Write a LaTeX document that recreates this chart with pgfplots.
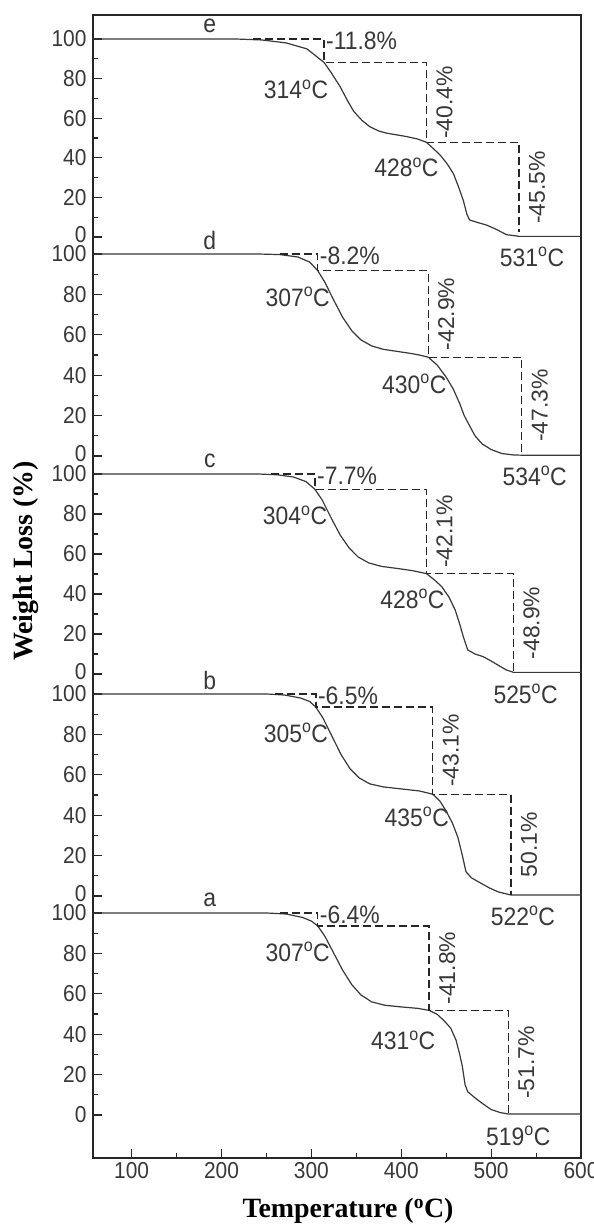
\documentclass[border=0pt]{standalone}
\usepackage{graphicx}
\usepackage{pgfplots}
\usepackage{pgfplotstable}
\pgfplotsset{compat=1.18}
\usepackage{fontspec}
\setmainfont{Liberation Sans}
\newfontfamily\titlefont{Liberation Serif}
\newcommand\lab{\fontsize{21}{24}\selectfont}
\newcommand\ann{\fontsize{23}{26}\selectfont}
\newcommand\st[1]{\scalebox{1}[1.1]{#1}}
\newcommand\z{\raisebox{6bp}{\st{0}}}
\newcommand\ttl{\titlefont\bfseries\fontsize{28}{32}\selectfont}
\colorlet{ink}{black!78}
\colorlet{dink}{black!85}
% panel scales (bp per %) and offsets (bp)
\def\Sa{2.02}\def\Oa{43}
\def\Sb{2.02}\def\Ob{262}
\def\Sc{2.00}\def\Oc{484}
\def\Sd{2.02}\def\Od{702}
\def\Se{1.98}\def\Oe{921}
\pgfplotstableread{
T w
57 100
250 100
272 99.5
290 97.8
300 96
307 93.6
315 88.5
325 80
335 71.5
345 64.5
355 59.5
367 56
382 54.3
400 53.5
418 52.8
431 51.8
440 49.8
448 46.5
455 43
461 37
465 30
468 24
471 15
474 11.5
482 8.5
490 5.8
500 2.7
510 1.2
519 0.5
600 0.5
}\curveA
\pgfplotstableread{
T w
57 100
250 100
270 99.5
288 98
298 96.3
305 93.5
313 88
323 79
333 70
343 63
353 58.5
365 55.5
380 54
400 53
420 52
435 50.4
443 47
450 42
457 36
463 29
468 20
472 12
478 9
488 6.5
498 4
508 2
522 0.5
600 0.5
}\curveB
\pgfplotstableread{
T w
57 100
240 100
262 99.6
280 98.5
294 96.2
304 92.3
312 87
322 78
332 69.5
342 63
352 58.5
364 55.5
378 53.8
395 52.8
412 51.7
428 50.2
437 47
445 43.7
453 38.5
460 32
465 25
469 18.7
474 12
482 10
491 8.7
500 6.5
510 3.8
517 2
525 0.8
600 0.8
}\curveC
\pgfplotstableread{
T w
57 100
240 100
265 99.7
285 98.5
298 96
307 91.8
315 86
325 77
335 68.5
345 62
355 57.5
367 54.5
380 52.8
395 51.8
410 50.8
420 50
430 48.9
440 45
450 39
458 33
465 26
470 20
476 15
482 10
490 6
500 3.2
512 1.2
525 0.5
534 0.4
600 0.4
}\curveD
\pgfplotstableread{
T w
57 100
215 100
245 99.5
272 98
295 95
314 88.2
322 83
332 75.9
340 69
347 63.5
356 59
365 55.7
375 53.5
384 52.4
396 51.5
406 50.7
418 49.5
428 47.8
436 44.5
443 41.5
451 37
458 32
464 25
469 18.5
473 11.5
476 8.6
485 7.3
495 6
505 4
517 1.2
531 0.3
600 0.3
}\curveE
% dashed guide lines
\pgfplotstableread{
T w
265 100
307 100
307 93.6
431 93.6
431 51.8
519 51.8
519 0.1
}\guideA
\pgfplotstableread{
T w
260 100
305 100
305 93.5
435 93.5
435 50.4
522 50.4
522 0.3
}\guideB
\pgfplotstableread{
T w
255 100
304 100
304 92.3
428 92.3
428 50.2
525 50.2
525 1.3
}\guideC
\pgfplotstableread{
T w
265 100
307 100
307 91.8
430 91.8
430 48.9
534 48.9
534 1.6
}\guideD
\pgfplotstableread{
T w
235 100
314 100
314 88.2
428 88.2
428 47.8
531 47.8
531 2.3
}\guideE
\begin{document}
\begin{tikzpicture}[x=1bp,y=1bp]
\useasboundingbox (0,0) rectangle (594,1225);
\begin{axis}[at={(93bp,67bp)}, anchor=south west, scale only axis,
  width=488bp, height=1143bp,
  xmin=57, xmax=600, ymin=0, ymax=1143,
  axis line style={line width=1.4bp, black!85},
  xtick={100,200,300,400,500,600},
  minor xtick={150,250,350,450,550},
  xtick pos=bottom, ytick pos=left, tick align=inside,
  major tick length=9bp, minor tick length=5bp,
  tick style={line width=1.1bp, black!85},
  ytick={43,83.4,123.8,164.2,204.6,245,
         262,302.4,342.8,383.2,423.6,464,
         484,524,564,604,644,684,
         702,742.4,782.8,823.2,863.6,904,
         921,960.6,1000.2,1039.8,1079.4,1119},
  yticklabels={\st{0},\st{20},\st{40},\st{60},\st{80},\st{100},
               \z,\st{20},\st{40},\st{60},\st{80},\st{100},
               \z,\st{20},\st{40},\st{60},\st{80},\st{100},
               \z,\st{20},\st{40},\st{60},\st{80},\st{100},
               \z,\st{20},\st{40},\st{60},\st{80},\st{100}},
  minor ytick={63.2,103.6,144,184.4,224.8,
         282.2,322.6,363,403.4,443.8,
         504,544,584,624,664,
         722.2,762.6,803,843.4,883.8,
         940.8,980.4,1020,1059.6,1099.2},
  xticklabels={\st{100},\st{200},\st{300},\st{400},\st{500},\st{600}},
  ticklabel style={font=\lab, text=ink},
  yticklabel style={xshift=-3bp},
  xticklabel style={yshift=-1bp},
  clip=false,
  every axis plot/.append style={line width=1.2bp},
]
\addplot[ink, no marks] table[x=T, y expr=\thisrow{w}*\Sa+\Oa] {\curveA};
\addplot[ink, no marks] table[x=T, y expr=\thisrow{w}*\Sb+\Ob] {\curveB};
\addplot[ink, no marks] table[x=T, y expr=\thisrow{w}*\Sc+\Oc] {\curveC};
\addplot[ink, no marks] table[x=T, y expr=\thisrow{w}*\Sd+\Od] {\curveD};
\addplot[ink, no marks] table[x=T, y expr=\thisrow{w}*\Se+\Oe] {\curveE};
\addplot[dink, no marks, line width=1.3bp, dash pattern=on 8bp off 4bp] table[x=T, y expr=\thisrow{w}*\Sa+\Oa] {\guideA};
\addplot[dink, no marks, line width=1.3bp, dash pattern=on 8bp off 4bp] table[x=T, y expr=\thisrow{w}*\Sb+\Ob] {\guideB};
\addplot[dink, no marks, line width=1.3bp, dash pattern=on 8bp off 4bp] table[x=T, y expr=\thisrow{w}*\Sc+\Oc] {\guideC};
\addplot[dink, no marks, line width=1.3bp, dash pattern=on 8bp off 4bp] table[x=T, y expr=\thisrow{w}*\Sd+\Od] {\guideD};
\addplot[dink, no marks, line width=1.3bp, dash pattern=on 8bp off 4bp] table[x=T, y expr=\thisrow{w}*\Se+\Oe] {\guideE};
% panel letters
\node[font=\ann, text=ink] at ([yshift=13bp]axis cs:187,{100*\Se+\Oe}) {\st{e}};
\node[font=\ann, text=ink] at ([yshift=13bp]axis cs:187,{100*\Sd+\Od}) {\st{d}};
\node[font=\ann, text=ink] at ([yshift=13bp]axis cs:187,{100*\Sc+\Oc}) {\st{c}};
\node[font=\ann, text=ink] at ([yshift=13bp]axis cs:187,{100*\Sb+\Ob}) {\st{b}};
\node[font=\ann, text=ink] at ([yshift=13bp]axis cs:187,{100*\Sa+\Oa}) {\st{a}};
% first-step labels
\node[font=\ann, text=ink, anchor=west, inner sep=1bp] at ([xshift=1bp,yshift=-2bp]axis cs:314,{100*\Se+\Oe}) {\st{-11.8\%}};
\node[font=\ann, text=ink, anchor=west, inner sep=1bp] at ([xshift=1bp,yshift=-2bp]axis cs:307,{100*\Sd+\Od}) {\st{-8.2\%}};
\node[font=\ann, text=ink, anchor=west, inner sep=1bp] at ([xshift=1bp,yshift=-2bp]axis cs:304,{100*\Sc+\Oc}) {\st{-7.7\%}};
\node[font=\ann, text=ink, anchor=west, inner sep=1bp] at ([xshift=1bp,yshift=-2bp]axis cs:305,{100*\Sb+\Ob}) {\st{-6.5\%}};
\node[font=\ann, text=ink, anchor=west, inner sep=1bp] at ([xshift=1bp,yshift=-2bp]axis cs:307,{100*\Sa+\Oa}) {\st{-6.4\%}};
% T1 labels
\node[font=\ann, text=ink] at ([xshift=-28bp,yshift=-27bp]axis cs:314,{88.2*\Se+\Oe}) {\st{314\textsuperscript{o}C}};
\node[font=\ann, text=ink] at ([xshift=-20bp,yshift=-26bp]axis cs:307,{91.8*\Sd+\Od}) {\st{307\textsuperscript{o}C}};
\node[font=\ann, text=ink] at ([xshift=-20bp,yshift=-26bp]axis cs:304,{92.3*\Sc+\Oc}) {\st{304\textsuperscript{o}C}};
\node[font=\ann, text=ink] at ([xshift=-20bp,yshift=-26bp]axis cs:305,{93.5*\Sb+\Ob}) {\st{305\textsuperscript{o}C}};
\node[font=\ann, text=ink] at ([xshift=-20bp,yshift=-26bp]axis cs:307,{93.6*\Sa+\Oa}) {\st{307\textsuperscript{o}C}};
% T2 labels
\node[font=\ann, text=ink] at ([xshift=-20bp,yshift=-25bp]axis cs:428,{47.8*\Se+\Oe}) {\st{428\textsuperscript{o}C}};
\node[font=\ann, text=ink] at ([xshift=-14bp,yshift=-27bp]axis cs:430,{48.9*\Sd+\Od}) {\st{430\textsuperscript{o}C}};
\node[font=\ann, text=ink] at ([xshift=-14bp,yshift=-25bp]axis cs:428,{50.2*\Sc+\Oc}) {\st{428\textsuperscript{o}C}};
\node[font=\ann, text=ink] at ([xshift=-16bp,yshift=-23bp]axis cs:435,{50.4*\Sb+\Ob}) {\st{435\textsuperscript{o}C}};
\node[font=\ann, text=ink] at ([xshift=-26bp,yshift=-30bp]axis cs:431,{51.8*\Sa+\Oa}) {\st{431\textsuperscript{o}C}};
% T3 labels
\node[font=\ann, text=ink] at ([xshift=13bp,yshift=-20bp]axis cs:531,{0*\Se+\Oe}) {\st{531\textsuperscript{o}C}};
\node[font=\ann, text=ink] at ([xshift=13bp,yshift=-20bp]axis cs:534,{0*\Sd+\Od}) {\st{534\textsuperscript{o}C}};
\node[font=\ann, text=ink] at ([xshift=12bp,yshift=-20bp]axis cs:525,{0*\Sc+\Oc}) {\st{525\textsuperscript{o}C}};
\node[font=\ann, text=ink] at ([xshift=12bp,yshift=-20bp]axis cs:522,{0*\Sb+\Ob}) {\st{522\textsuperscript{o}C}};
\node[font=\ann, text=ink] at ([xshift=10bp,yshift=-21bp]axis cs:519,{0*\Sa+\Oa}) {\st{519\textsuperscript{o}C}};
% rotated step-2 labels
\node[font=\ann, text=ink, rotate=90] at ([xshift=18bp]axis cs:428,{68*\Se+\Oe}) {-40.4\%};
\node[font=\ann, text=ink, rotate=90] at ([xshift=18bp]axis cs:430,{70.3*\Sd+\Od}) {-42.9\%};
\node[font=\ann, text=ink, rotate=90] at ([xshift=18bp]axis cs:428,{71.2*\Sc+\Oc}) {-42.1\%};
\node[font=\ann, text=ink, rotate=90] at ([xshift=18bp]axis cs:435,{72*\Sb+\Ob}) {-43.1\%};
\node[font=\ann, text=ink, rotate=90] at ([xshift=18bp]axis cs:431,{72.7*\Sa+\Oa}) {-41.8\%};
% rotated step-3 labels
\node[font=\ann, text=ink, rotate=90] at ([xshift=18bp]axis cs:531,{25*\Se+\Oe}) {-45.5\%};
\node[font=\ann, text=ink, rotate=90] at ([xshift=18bp]axis cs:534,{25*\Sd+\Od}) {-47.3\%};
\node[font=\ann, text=ink, rotate=90] at ([xshift=18bp]axis cs:525,{25.5*\Sc+\Oc}) {-48.9\%};
\node[font=\ann, text=ink, rotate=90] at ([xshift=18bp]axis cs:522,{25.3*\Sb+\Ob}) {50.1\%};
\node[font=\ann, text=ink, rotate=90] at ([xshift=18bp]axis cs:519,{26*\Sa+\Oa}) {-51.7\%};
\end{axis}
\node[font=\ttl, rotate=90] at (26,664) {Weight Loss (\%)};
\node[font=\ttl] at (348,14) {Temperature (\textsuperscript{o}C)};
\end{tikzpicture}
\end{document}
